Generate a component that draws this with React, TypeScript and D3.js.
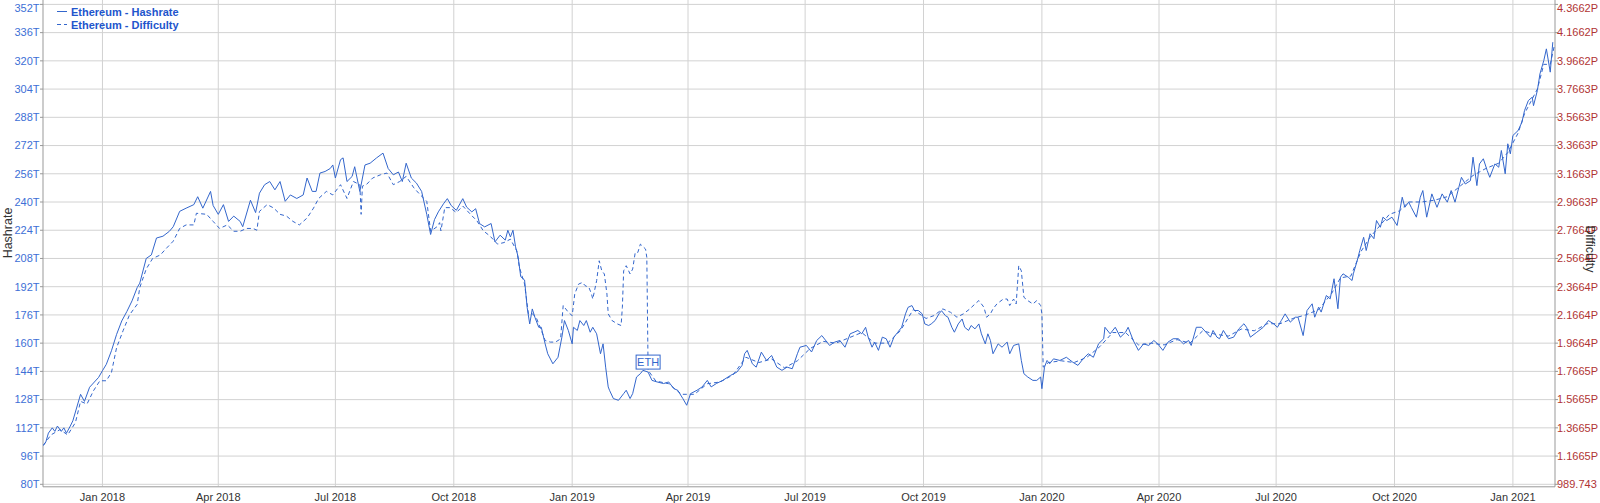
import React from "react";
import * as d3 from "d3";

// ---- data ----
// x: days since 2018-01-01, hashrate in TH/s
const hashrateSeries: [number, number][] = [
  [-46,102],[-44,104],[-42,109],[-39,112],[-37,110],[-35,113],[-32,110],[-30,112],[-28,109],[-25,113],[-23,116],[-17,131],[-14,127],[-10,135],[-3,140.6],[0,144.4],[3,148],[7,155.7],[11,165],[15,172.6],[19,178],[23,184],[27,191.5],[29,194],[34,208],[38,210],[42,219.6],[47,220.6],[52,223.4],[55,226],[60,234.7],[65,236.5],[71,238.5],[74,243],[78,236.5],[84,246],[86,238],[90,233],[94,238.5],[98,229],[102,232],[107,229],[109,226],[115,241],[119,234],[122,245],[126,249.8],[130,251.6],[134,246.9],[138,251.6],[142,240.4],[146,244],[151,242],[156,244],[159,253.6],[163,246],[166,246],[169,256.4],[173,257.3],[177,259],[179,261],[181,253.6],[185,264],[187,265],[190,251.6],[194,254.5],[196,260],[200,246],[204,261],[208,262],[213,265],[218,267.7],[222,259],[226,255.4],[230,257],[233,251.6],[236,262],[240,253.6],[244,250.7],[248,246],[252,233],[255,221.6],[258,230],[261,234.4],[265,239],[268,241.9],[271,238],[275,235.3],[280,241.9],[283,237.1],[287,234.4],[290,236.2],[293,227.8],[297,225.9],[302,227.8],[305,217.4],[309,221.2],[313,218.4],[315,224],[317,220.2],[319,224],[321,214.6],[323,208.9],[325,197.7],[328,195.8],[330,180.3],[332,170.9],[334,179.4],[336,174.7],[339,169],[341,169],[344,159.6],[346,154],[350,148.3],[354,152],[357,163.4],[359,172.8],[362,167.2],[365,159.6],[366,169],[369,167.2],[371,172.8],[374,170],[376,172.8],[379,166.2],[381,169],[384,165.3],[387,154],[389,159.6],[391,146.4],[393,135.2],[394,133.3],[397,128.6],[401,127.6],[405,131.4],[407,133.3],[410,128.6],[412,131.4],[415,140.8],[418,142.7],[420,144.6],[424,143.6],[427,138.9],[431,138],[436,137.1],[440,138],[444,134.2],[447,133.3],[451,128.6],[454,124.8],[457,131.4],[462,133.3],[466,135.2],[470,138.9],[473,135.2],[477,137.1],[482,138.9],[488,141.7],[493,143.6],[497,147.4],[499,154],[501,155.9],[505,148.3],[508,146.4],[512,154.9],[516,150.2],[520,153],[524,146.4],[528,144.6],[532,146.4],[536,145.5],[540,154],[542,157.7],[547,158.7],[551,155],[555,161.5],[559,164.3],[563,160.6],[565,158.7],[569,160.6],[573,161.5],[577,157.7],[581,165.3],[584,166.2],[587,167.2],[590,165.3],[593,169],[595,163.4],[598,157.7],[600,160.6],[603,155.9],[606,163.4],[609,162.5],[612,157.7],[615,163.4],[618,166.2],[621,169],[624,176.6],[626,180.3],[629,181.3],[631,178.5],[634,178.5],[637,176.6],[639,170.9],[642,170],[644,170.9],[647,172.8],[650,176.6],[652,178.4],[655,175.6],[657,174.7],[660,169],[662,166.2],[665,170.9],[668,173.7],[670,169],[673,167.2],[675,170],[678,168.1],[681,170.9],[683,165.3],[686,159.6],[688,165.3],[690,161.5],[692,154],[696,159.6],[699,157.7],[703,160.6],[705,154],[708,158.7],[712,159.6],[714,150.2],[716,142.7],[719,140.8],[723,138.9],[726,138.9],[729,140.8],[730,134.2],[732,146.4],[734,150.2],[736,148.3],[739,151.1],[744,150.2],[749,152],[754,149.2],[758,147.4],[762,151.1],[766,154],[770,152],[774,159.6],[778,162.5],[779,169],[783,165.3],[787,169],[791,163.4],[795,166.2],[797,169],[801,161.5],[805,155.9],[809,159.6],[813,158.7],[817,161.5],[820,159.6],[824,155.9],[828,160.6],[832,162.5],[836,162.5],[840,159.6],[844,161.5],[846,158.7],[850,169],[854,169],[861,163.4],[863,167.2],[866,163.4],[868,162.5],[871,167.2],[875,162.5],[879,163.4],[883,168.1],[887,171],[889,169],[892,163.4],[897,166.2],[902,169],[906,172.8],[910,171],[913,169],[916,172.8],[919,176.6],[923,171.9],[927,174.7],[929,174.7],[933,164.3],[936,178.5],[940,182.3],[942,174.7],[945,180.4],[947,177.6],[951,187],[954,185.1],[957,196.5],[960,179.5],[962,197.4],[964,199.3],[968,197.4],[971,195.5],[972,199.3],[975,206.8],[977,212.5],[980,220],[982,212.5],[985,222],[988,219.2],[990,229.5],[993,225.7],[995,231.4],[998,229.5],[1002,231.4],[1006,226.7],[1010,242.7],[1012,237],[1015,239.9],[1017,237],[1021,231.4],[1024,242.7],[1026,246.5],[1029,231.4],[1033,244.6],[1037,237],[1041,244.6],[1045,239.9],[1048,246.5],[1051,239.9],[1054,248.4],[1056,254],[1059,250.2],[1063,252.1],[1065,265.4],[1068,249.3],[1070,261.6],[1073,264.5],[1076,257.9],[1078,254],[1082,261.6],[1085,259.7],[1087,269.2],[1090,256],[1092,273],[1094,267.3],[1096,277.7],[1100,280.5],[1103,285.2],[1105,291.8],[1108,297.5],[1111,299.4],[1112,294.6],[1115,303.2],[1117,312.6],[1120,320.2],[1122,326.8],[1125,313.6],[1127,330.6]
];

// x: days since 2018-01-01, difficulty in P
const difficultySeries: [number, number][] = [
  [-46,1.2415],[-40,1.3165],[-33,1.354],[-27,1.3165],[-21,1.404],[-17,1.554],[-12,1.535],[-7,1.629],[-2,1.700],[3,1.700],[7,1.759],[11,1.935],[16,2.054],[21,2.1665],[27,2.2415],[29,2.360],[34,2.4915],[39,2.5665],[45,2.5915],[50,2.6415],[55,2.689],[60,2.779],[65,2.804],[71,2.804],[73,2.8865],[81,2.879],[86,2.829],[91,2.779],[97,2.804],[102,2.759],[107,2.759],[112,2.779],[117,2.779],[120,2.7665],[122,2.900],[128,2.948],[133,2.924],[138,2.879],[143,2.8665],[148,2.829],[153,2.804],[159,2.853],[164,2.923],[168,2.9915],[174,3.0415],[179,3.0165],[185,3.089],[190,2.9915],[195,3.1115],[200,3.089],[201,2.879],[202,3.079],[205,3.089],[210,3.1365],[216,3.159],[221,3.1715],[226,3.089],[231,3.1115],[236,3.148],[242,3.0665],[247,3.0165],[252,2.9715],[255,2.759],[260,2.7915],[262,2.820],[263,2.7615],[266,2.9265],[270,2.9265],[275,2.8915],[280,2.938],[286,2.879],[291,2.833],[296,2.7615],[301,2.7265],[307,2.668],[312,2.679],[317,2.703],[322,2.620],[324,2.503],[328,2.385],[331,2.174],[334,2.174],[337,2.150],[341,2.0565],[344,1.985],[348,1.974],[352,1.974],[356,1.9965],[358,2.233],[362,2.185],[365,2.1615],[367,2.315],[370,2.385],[373,2.3965],[375,2.374],[378,2.3615],[380,2.315],[381,2.279],[384,2.409],[386,2.550],[388,2.479],[390,2.4565],[392,2.315],[393,2.174],[396,2.1265],[400,2.103],[403,2.0915],[404,2.220],[405,2.479],[407,2.515],[410,2.4565],[412,2.4915],[414,2.609],[416,2.609],[418,2.668],[422,2.633],[423,2.574],[424,1.774],[430,1.698],[440,1.679],[450,1.604],[460,1.604],[470,1.679],[480,1.6915],[490,1.7415],[500,1.8665],[510,1.829],[520,1.854],[530,1.7915],[540,1.8415],[550,1.929],[560,1.979],[570,1.9665],[580,2.004],[590,2.0415],[600,1.9665],[610,1.9665],[620,2.054],[630,2.204],[640,2.1415],[646,2.1615],[653,2.209],[659,2.185],[664,2.150],[669,2.174],[674,2.209],[678,2.244],[681,2.268],[685,2.220],[687,2.150],[690,2.174],[692,2.209],[695,2.244],[700,2.279],[703,2.279],[705,2.233],[708,2.279],[710,2.244],[712,2.515],[714,2.479],[716,2.2915],[719,2.268],[723,2.244],[726,2.268],[729,2.233],[730,2.174],[731,1.7965],[735,1.829],[745,1.8415],[755,1.829],[765,1.8665],[775,1.9415],[785,2.0415],[795,2.0415],[805,1.954],[815,1.9665],[825,1.954],[835,1.9915],[845,1.9665],[855,2.054],[865,2.029],[875,2.0165],[885,2.0665],[895,2.054],[905,2.104],[915,2.104],[925,2.1415],[935,2.1665],[945,2.204],[955,2.3165],[962,2.429],[970,2.4415],[978,2.6165],[985,2.7165],[992,2.7915],[1000,2.879],[1008,2.904],[1015,2.9665],[1025,2.9665],[1035,2.979],[1045,3.004],[1055,3.079],[1065,3.154],[1075,3.204],[1085,3.2415],[1092,3.3165],[1100,3.454],[1105,3.5915],[1110,3.679],[1115,3.7665],[1120,3.9415],[1125,3.9415],[1128,4.0665]
];

const hashrateTicks = [80, 96, 112, 128, 144, 160, 176, 192, 208, 224, 240, 256, 272, 288, 304, 320, 336, 352];
const difficultyTickLabels = ["989.743", "1.1665P", "1.3665P", "1.5665P", "1.7665P", "1.9664P", "2.1664P", "2.3664P", "2.5664P", "2.7664P", "2.9663P", "3.1663P", "3.3663P", "3.5663P", "3.7663P", "3.9662P", "4.1662P", "4.3662P"];
const seriesNames = ["Ethereum - Hashrate", "Ethereum - Difficulty"];
const annotationDay = 424;
const annotationText = "ETH";
const xDomainDays: [number, number] = [-46.2, 1128.7];
const hashDomain: [number, number] = [80, 352];
const diffDomain: [number, number] = [0.9665, 4.3662];

const FONT = "'Liberation Sans', Arial, sans-serif";
const LINE = "#3366cc";
const LEFT_TXT = "#3d6fd6";
const RIGHT_TXT = "#b03434";
const GRID = "#d2d2d2";

const BASE = Date.UTC(2018, 0, 1);
const toDate = (d: number) => new Date(BASE + d * 86400000);

export default function App() {
  const L = 43, R = 1555, T = 4.4, B = 484.3;
  const x = d3.scaleUtc().domain(xDomainDays.map(toDate) as [Date, Date]).range([L, R]);
  const yL = d3.scaleLinear().domain(hashDomain).range([B, T]);
  const yR = d3.scaleLinear().domain(diffDomain).range([B, T]);
  const xTicks = x.ticks(d3.utcMonth.every(3) as any);
  const fmt = d3.utcFormat("%b %Y");

  const hashLine = d3.line<[number, number]>().x(d => x(toDate(d[0]))).y(d => yL(d[1]));
  const diffLine = d3.line<[number, number]>().x(d => x(toDate(d[0]))).y(d => yR(d[1]));

  const ann = hashrateSeries.find(d => d[0] === annotationDay)!;
  const ax = x(toDate(ann[0]));
  const ay = yL(ann[1]);

  return (
    <div style={{ position: "absolute", left: 0, top: 0 }}>
      <svg width={1600} height={503} style={{ display: "block", background: "#fff" }} fontFamily={FONT}>
        <defs>
          <clipPath id="plot">
            <rect x={L} y={0} width={R - L} height={B + 2} />
          </clipPath>
        </defs>
        {/* grid */}
        {hashrateTicks.map(t => (
          <line key={"h" + t} x1={L} x2={R} y1={yL(t)} y2={yL(t)} stroke={GRID} strokeWidth={1} />
        ))}
        {xTicks.map(t => (
          <line key={"v" + +t} x1={x(t)} x2={x(t)} y1={0} y2={B + 2} stroke={GRID} strokeWidth={1} />
        ))}
        {/* axes */}
        <line x1={L} x2={L} y1={0} y2={B + 2.5} stroke="#999" strokeWidth={1} />
        <line x1={R} x2={R} y1={0} y2={B + 2.5} stroke="#999" strokeWidth={1} />
        <line x1={L} x2={R} y1={B + 2.5} y2={B + 2.5} stroke="#999" strokeWidth={1} />
        {/* left ticks */}
        {hashrateTicks.map((t, i) => {
          const yy = yL(t);
          const ty = Math.min(Math.max(yy, 8.5), B + 1.5);
          return (
            <g key={"lt" + t}>
              <line x1={L - 3} x2={L} y1={yy} y2={yy} stroke="#999" />
              <text x={L - 3.5} y={ty} dy="0.35em" textAnchor="end" fontSize={11} fill={LEFT_TXT}>{t}T</text>
            </g>
          );
        })}
        {/* right ticks */}
        {hashrateTicks.map((t, i) => {
          const yy = yL(t);
          const ty = Math.min(Math.max(yy, 8.5), B + 1.5);
          return (
            <g key={"rt" + t}>
              <line x1={R} x2={R + 3} y1={yy} y2={yy} stroke="#999" />
              <text x={R + 2} y={ty} dy="0.35em" textAnchor="start" fontSize={11} fill={RIGHT_TXT}>{difficultyTickLabels[i]}</text>
            </g>
          );
        })}
        {/* x labels */}
        {xTicks.map(t => (
          <text key={"xl" + +t} x={x(t)} y={501} textAnchor="middle" fontSize={11} fill="#333">{fmt(t)}</text>
        ))}
        {/* axis titles */}
        <text transform={`translate(12,233) rotate(-90)`} textAnchor="middle" fontSize={12.5} fill="#333">Hashrate</text>
        <text transform={`translate(1586,249) rotate(90)`} textAnchor="middle" fontSize={12.5} fill="#333">Difficulty</text>
        {/* series */}
        <g clipPath="url(#plot)">
          <path d={diffLine(difficultySeries) || ""} fill="none" stroke={LINE} strokeWidth={1} strokeDasharray="4,3" />
          <path d={hashLine(hashrateSeries) || ""} fill="none" stroke={LINE} strokeWidth={1} />
        </g>
        {/* annotation */}
        <rect x={ax - 12} y={ay - 17} width={24} height={14} fill="#fff" stroke={LINE} strokeWidth={1} />
        <text x={ax} y={ay - 6} textAnchor="middle" fontSize={11} fill={LINE}>{annotationText}</text>
        {/* legend */}
        <line x1={57} x2={67} y1={11.5} y2={11.5} stroke={LINE} strokeWidth={1} />
        <text x={71} y={15.5} fontSize={11} fontWeight="bold" fill="#2255cc">{seriesNames[0]}</text>
        <line x1={57} x2={67} y1={24.5} y2={24.5} stroke={LINE} strokeWidth={1} strokeDasharray="4,3" />
        <text x={71} y={28.5} fontSize={11} fontWeight="bold" fill="#2255cc">{seriesNames[1]}</text>
      </svg>
    </div>
  );
}
